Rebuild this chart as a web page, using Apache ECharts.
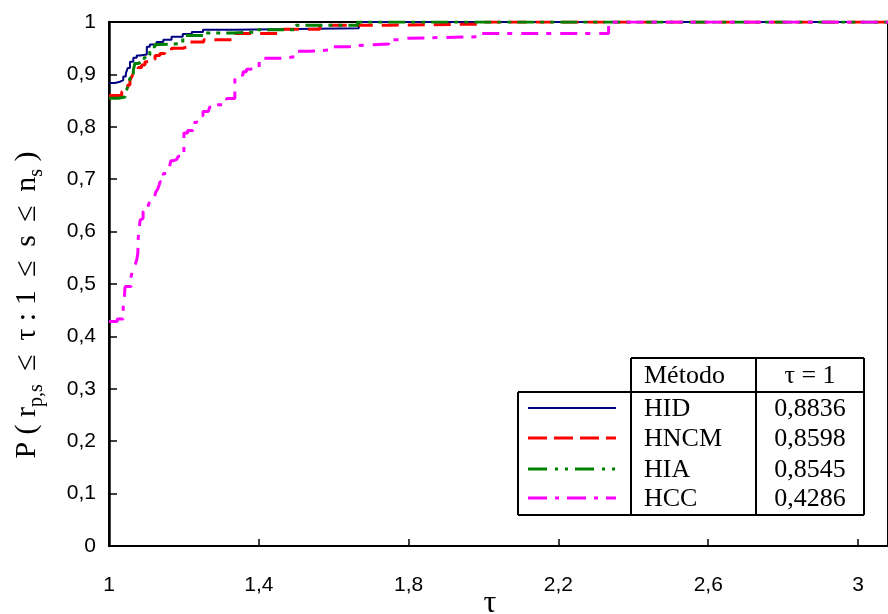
<!DOCTYPE html>
<html>
<head>
<meta charset="utf-8">
<script src="https://cdn.jsdelivr.net/npm/echarts@6/dist/echarts.min.js"></script>
<style>
html,body{margin:0;padding:0;background:#fff;}
#chart{width:888px;height:614px;}
</style>
</head>
<body>
<div id="chart"></div>
<script>
// ---- data ----
const methods = ['HID', 'HNCM', 'HIA', 'HCC'];
const tauOneValues = ['0,8836', '0,8598', '0,8545', '0,4286'];

const hidTau = [1, 1.016, 1.029, 1.038, 1.045, 1.050, 1.056, 1.065, 1.074, 1.083, 1.101, 1.109, 1.127, 1.145, 1.167, 1.197, 1.221, 1.251, 1.336, 1.667, 3.08];
const hidP   = [0.8836, 0.886, 0.889, 0.896, 0.902, 0.912, 0.924, 0.932, 0.936, 0.938, 0.953, 0.957, 0.962, 0.966, 0.972, 0.977, 0.981, 0.985, 0.988, 1, 1];

const hncmTau = [1, 1.034, 1.050, 1.056, 1.061, 1.065, 1.069, 1.078, 1.087, 1.096, 1.105, 1.123, 1.136, 1.149, 1.167, 1.197, 1.211, 1.253, 1.336, 1.464, 1.563, 1.749, 2.003, 3.08];
const hncmP   = [0.8598, 0.867, 0.880, 0.889, 0.896, 0.902, 0.908, 0.913, 0.918, 0.924, 0.929, 0.936, 0.940, 0.945, 0.950, 0.953, 0.962, 0.966, 0.978, 0.986, 0.994, 0.996, 1, 1];

const hiaTau = [1, 1.025, 1.043, 1.047, 1.051, 1.056, 1.065, 1.069, 1.078, 1.087, 1.096, 1.109, 1.114, 1.123, 1.136, 1.197, 1.251, 1.331, 1.398, 1.499, 1.664, 3.08];
const hiaP   = [0.8545, 0.857, 0.861, 0.870, 0.880, 0.893, 0.908, 0.921, 0.924, 0.931, 0.937, 0.943, 0.953, 0.957, 0.959, 0.974, 0.979, 0.981, 0.985, 0.994, 1, 1];

const hccTau = [1, 1.022, 1.038, 1.041, 1.043, 1.059, 1.062, 1.066, 1.071, 1.074, 1.077, 1.078, 1.083, 1.087, 1.091, 1.096, 1.105, 1.109, 1.114, 1.121, 1.125, 1.130, 1.134, 1.136, 1.145, 1.154, 1.160, 1.165, 1.171, 1.181, 1.185, 1.200, 1.210, 1.225, 1.234, 1.238, 1.251, 1.265, 1.269, 1.278, 1.305, 1.314, 1.336, 1.349, 1.358, 1.367, 1.376, 1.401, 1.467, 1.499, 1.531, 1.598, 1.643, 1.665, 1.747, 1.774, 1.798, 1.995, 2.334, 3.08];
const hccP   = [0.4286, 0.433, 0.466, 0.476, 0.495, 0.514, 0.523, 0.533, 0.539, 0.546, 0.559, 0.588, 0.622, 0.625, 0.638, 0.644, 0.651, 0.657, 0.664, 0.667, 0.676, 0.681, 0.689, 0.695, 0.711, 0.714, 0.718, 0.735, 0.738, 0.740, 0.744, 0.788, 0.793, 0.808, 0.814, 0.821, 0.829, 0.832, 0.838, 0.842, 0.848, 0.854, 0.897, 0.899, 0.905, 0.910, 0.912, 0.931, 0.934, 0.944, 0.947, 0.953, 0.955, 0.958, 0.966, 0.969, 0.972, 0.978, 1, 1];

const xTickValues = [1, 1.4, 1.8, 2.2, 2.6, 3];
const yTickValues = [0, 0.1, 0.2, 0.3, 0.4, 0.5, 0.6, 0.7, 0.8, 0.9, 1];

// ---- styles ----
const colors = ['#000080', '#ff0000', '#008000', '#ff00ff'];
const plotDash = ['solid', [17, 9], [17, 6, 4, 6, 4, 6], [17, 8, 5, 9]];
const plotWidth = [2, 3, 3, 3];
const legendDash = [null, [19, 7], [19, 8, 3, 7, 3, 7], [19, 8, 4, 8]];

function zip(a, b) { return a.map((v, i) => [v, b[i]]); }
function fmt(v) { return String(Math.round(v * 10) / 10).replace('.', ','); }

const seriesData = [zip(hidTau, hidP), zip(hncmTau, hncmP), zip(hiaTau, hiaP), zip(hccTau, hccP)];

const chart = echarts.init(document.getElementById('chart'), null, {renderer: 'canvas'});

const graphics = [];
// y axis title
graphics.push({
  type: 'text', x: 27, y: 305, rotation: Math.PI / 2,
  style: {
    text: '{n|P ( r}{s|p,s}{n| \u2009≤\u2009 τ : 1 \u2009≤\u2009 s \u2009≤\u2009 n}{s|s}{n| )}',
    align: 'center', verticalAlign: 'middle',
    rich: {
      n: {fontFamily: 'Liberation Serif', fontSize: 30, lineHeight: 40, fill: '#000'},
      s: {fontFamily: 'Liberation Serif', fontSize: 20, lineHeight: 20, verticalAlign: 'bottom', fill: '#000'}
    }
  }
});
// x axis title
graphics.push({
  type: 'text', x: 490, y: 604,
  style: {text: 'τ', fontFamily: 'Liberation Serif', fontSize: 32, fill: '#000', align: 'center', verticalAlign: 'middle'}
});
// legend table
const L = {x0: 518, x1: 631, x2: 756, x3: 864, yH: 358, y0: 392, y1: 515};
const tblLine = {stroke: '#000', lineWidth: 2};
[[L.x1, L.yH, L.x3, L.yH], [L.x0, L.y0, L.x3, L.y0], [L.x0, L.y1, L.x3, L.y1],
 [L.x0, L.y0, L.x0, L.y1], [L.x1, L.yH, L.x1, L.y1], [L.x2, L.yH, L.x2, L.y1], [L.x3, L.yH, L.x3, L.y1]]
 .forEach(s => graphics.push({type: 'line', shape: {x1: s[0], y1: s[1], x2: s[2], y2: s[3]}, style: tblLine, z: 10}));
const serifFont = {fontFamily: 'Liberation Serif', fontSize: 26, fill: '#000'};
graphics.push({type: 'text', x: 644, y: 376, style: Object.assign({text: 'Método', verticalAlign: 'middle', align: 'left'}, serifFont), z: 10});
graphics.push({type: 'text', x: 810, y: 376, style: Object.assign({text: 'τ = 1', verticalAlign: 'middle', align: 'center'}, serifFont), z: 10});
const rowY = [408, 438, 469, 498];
methods.forEach((m, i) => {
  graphics.push({type: 'line', shape: {x1: 528, y1: rowY[i], x2: 616, y2: rowY[i]},
    style: {stroke: colors[i], lineWidth: i === 0 ? 2 : 3, lineDash: legendDash[i]}, z: 10});
  graphics.push({type: 'text', x: 644, y: rowY[i] + 1, style: Object.assign({text: m, verticalAlign: 'middle', align: 'left'}, serifFont), z: 10});
  graphics.push({type: 'text', x: 810, y: rowY[i] + 1, style: Object.assign({text: tauOneValues[i], verticalAlign: 'middle', align: 'center'}, serifFont), z: 10});
});

const option = {
  animation: false,
  backgroundColor: '#fff',
  grid: {left: 109, right: 0, top: 22, bottom: 68, show: true, borderColor: '#000', borderWidth: 2, backgroundColor: 'transparent'},
  xAxis: {
    type: 'value', min: 1, max: 3.08, interval: 0.4,
    axisLine: {show: true, lineStyle: {color: '#000', width: 2}},
    axisTick: {show: true, inside: true, length: 7, lineStyle: {color: '#000', width: 1.5},
      customValues: xTickValues},
    axisLabel: {color: '#000', fontFamily: 'Liberation Sans', fontSize: 21, margin: 29,
      customValues: xTickValues, formatter: v => fmt(v)},
    splitLine: {show: false}
  },
  yAxis: {
    type: 'value', min: 0, max: 1, interval: 0.1,
    axisLine: {show: true, lineStyle: {color: '#000', width: 2.5}},
    axisTick: {show: true, inside: true, length: 8, lineStyle: {color: '#000', width: 1.5}},
    axisLabel: {color: '#000', fontFamily: 'Liberation Sans', fontSize: 21, margin: 13, formatter: v => fmt(v)},
    splitLine: {show: false}
  },
  series: methods.map((m, i) => ({
    name: m, type: 'line', step: 'end', data: seriesData[i], showSymbol: false, symbol: 'none',
    lineStyle: {color: colors[i], width: plotWidth[i], type: plotDash[i]},
    z: 2 + i
  })),
  graphic: graphics
};
chart.setOption(option);
</script>
</body>
</html>
